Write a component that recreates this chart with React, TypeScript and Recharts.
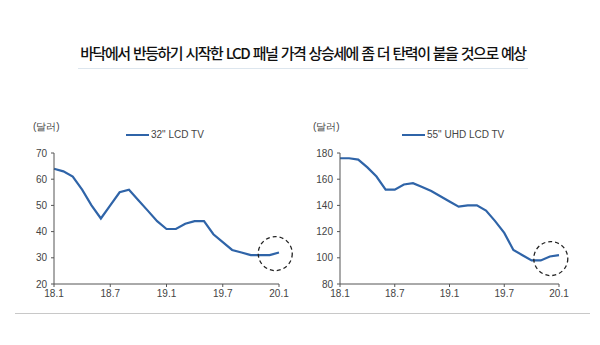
import { LineChart, Line, XAxis, YAxis, ReferenceDot, Legend } from 'recharts'

const months = [
  '18.1', '18.2', '18.3', '18.4', '18.5', '18.6', '18.7', '18.8', '18.9', '18.10', '18.11', '18.12',
  '19.1', '19.2', '19.3', '19.4', '19.5', '19.6', '19.7', '19.8', '19.9', '19.10', '19.11', '19.12',
  '20.1',
]
const xTicks = [0, 6, 12, 18, 24]

const tv32 = [64, 63, 61, 56, 50, 45, 50, 55, 56, 52, 48, 44, 41, 41, 43, 44, 44, 39, 36, 33, 32, 31, 31, 31, 32]
const tv55 = [176, 176, 175, 169, 162, 152, 152, 156, 157, 154, 151, 147, 143, 139, 140, 140, 136, 128, 119, 106, 102, 98, 98, 101, 102]

const ticks32 = [20, 30, 40, 50, 60, 70]
const ticks55 = [80, 100, 120, 140, 160, 180]

// 점선 원 (강조 위치: x 인덱스, y 값)
const mark32 = { x: 23.6, y: 31.6 }
const mark55 = { x: 23.1, y: 99.4 }

const title = '바닥에서 반등하기 시작한 LCD 패널 가격 상승세에 좀 더 탄력이 붙을 것으로 예상'

const font = '"Liberation Sans", Arial, sans-serif'
const lineColor = '#2f64a8'
const axisColor = '#555'
const tickStyle = { fontSize: 10, fill: '#444', fontFamily: font }

function LegendLine({ name }: { name: string }) {
  return (
    <div style={{ display: 'flex', alignItems: 'center', fontFamily: font, fontSize: 10, color: '#444' }}>
      <span style={{ width: 23, height: 2, background: lineColor, display: 'inline-block', marginRight: 2 }} />
      <span>{name}</span>
    </div>
  )
}

interface PanelProps {
  values: number[]
  name: string
  yTicks: number[]
  mark: { x: number; y: number }
  yWidth: number
  width: number
  right: number
  legendLeft: number
}

function Panel({ values, name, yTicks, mark, yWidth, width, right, legendLeft }: PanelProps) {
  const data = values.map((v, i) => ({ i, v }))
  return (
    <LineChart width={width} height={200} data={data} margin={{ top: 32, right, left: 0, bottom: 0 }}>
      <XAxis
        type="number"
        dataKey="i"
        domain={[0, 24]}
        ticks={xTicks}
        tickFormatter={(i: number) => months[i]}
        tick={tickStyle}
        tickSize={3}
        tickMargin={3}
        height={26}
        stroke={axisColor}
      />
      <YAxis
        domain={[yTicks[0], yTicks[yTicks.length - 1]]}
        ticks={yTicks}
        tick={tickStyle}
        tickSize={3}
        tickMargin={4}
        width={yWidth}
        stroke={axisColor}
        interval={0}
      />
      <Legend
        verticalAlign="top"
        wrapperStyle={{ top: 19, left: legendLeft, width: 'auto' }}
        content={() => <LegendLine name={name} />}
      />
      <Line
        type="linear"
        dataKey="v"
        name={name}
        stroke={lineColor}
        strokeWidth={2.2}
        dot={false}
        isAnimationActive={false}
      />
      <ReferenceDot
        x={mark.x}
        y={mark.y}
        r={17}
        fill="none"
        stroke="#222"
        strokeWidth={1.3}
        strokeDasharray="4 3"
      />
    </LineChart>
  )
}

export default function App() {
  return (
    <div style={{ position: 'absolute', left: 0, top: 0, width: 600, height: 345, background: '#fff', overflow: 'hidden' }}>
      <div
        style={{
          position: 'absolute', top: 42, left: 0, width: 606, textAlign: 'center',
          fontFamily: '"Noto Sans CJK KR", sans-serif', fontSize: 15, fontWeight: 500,
          color: '#111', letterSpacing: -1.5, wordSpacing: 1.5, whiteSpace: 'nowrap',
        }}
      >
        {title}
      </div>
      <div style={{ position: 'absolute', top: 68, left: 78, width: 450, height: 1, background: '#dde6ee' }} />

      <div style={{ position: 'absolute', top: 120, left: 33, fontFamily: font, fontSize: 10, color: '#444' }}>(달러)</div>
      <div style={{ position: 'absolute', top: 120, left: 313, fontFamily: font, fontSize: 10, color: '#444' }}>(달러)</div>

      <div style={{ position: 'absolute', top: 110, left: 0 }}>
        <Panel values={tv32} name={'32" LCD TV'} yTicks={ticks32} mark={mark32} yWidth={54} width={300} right={21} legendLeft={126} />
      </div>
      <div style={{ position: 'absolute', top: 110, left: 300 }}>
        <Panel values={tv55} name={'55" UHD LCD TV'} yTicks={ticks55} mark={mark55} yWidth={40} width={290} right={31} legendLeft={102} />
      </div>

      <div style={{ position: 'absolute', top: 313, left: 15, width: 575, height: 1, background: '#c8c8c8' }} />
    </div>
  )
}
